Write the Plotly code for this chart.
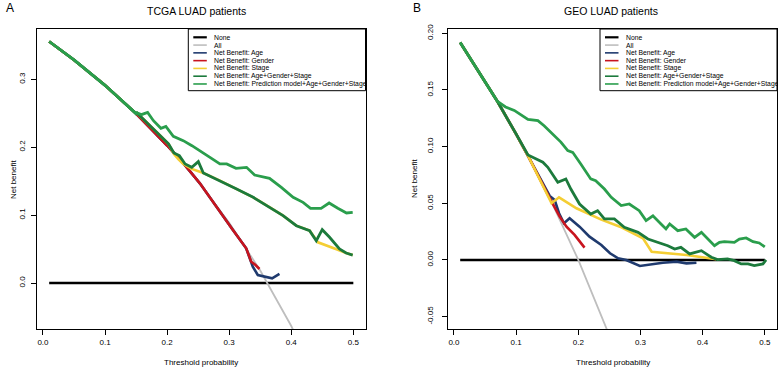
import plotly.graph_objects as go

W, H = 778, 368

# ---------------- Data: left panel (TCGA LUAD) ----------------
tcga_none_x = [0.01, 0.50]
tcga_none_y = [0.0, 0.0]

tcga_all_x = [0.01, 0.05, 0.10, 0.15, 0.20, 0.25, 0.30, 0.35, 0.40, 0.45, 0.50]
tcga_all_y = [0.3556, 0.3284, 0.2911, 0.2494, 0.2025, 0.1493, 0.0886, 0.0185, -0.0633, -0.160, -0.276]

tcga_age_x = [0.01, 0.05, 0.10, 0.15, 0.20, 0.2284, 0.2528, 0.279, 0.306, 0.3274, 0.338, 0.3461, 0.3568, 0.3692, 0.381]
tcga_age_y = [0.3556, 0.3284, 0.2911, 0.2494, 0.2025, 0.1738, 0.1468, 0.1124, 0.0781, 0.0511, 0.0240, 0.0118, 0.0093, 0.0069, 0.0133]

tcga_gender_x = [0.01, 0.05, 0.10, 0.15, 0.20, 0.2284, 0.2528, 0.279, 0.306, 0.3274, 0.3355, 0.3424, 0.3488]
tcga_gender_y = [0.3556, 0.3284, 0.2911, 0.2494, 0.2025, 0.1738, 0.1468, 0.1124, 0.0781, 0.0511, 0.0314, 0.0265, 0.0206]

tcga_stage_x = [0.01, 0.05, 0.10, 0.15, 0.1514, 0.173, 0.189, 0.2023, 0.211, 0.218, 0.226, 0.2397, 0.2557,
                0.2584, 0.285, 0.312, 0.3387, 0.3655, 0.3868, 0.4082, 0.4296, 0.443, 0.459, 0.475, 0.4884, 0.499]
tcga_stage_y = [0.3556, 0.3284, 0.2911, 0.2494, 0.2504, 0.2317, 0.217, 0.2047, 0.190, 0.1826, 0.1753, 0.168, 0.162,
                0.162, 0.1507, 0.1384, 0.1262, 0.1114, 0.0992, 0.0844, 0.0771, 0.0599, 0.055, 0.0491, 0.0442, 0.0412]

tcga_ags_x = [0.01, 0.05, 0.10, 0.15, 0.1514, 0.173, 0.189, 0.2023, 0.211, 0.2197, 0.229, 0.2397, 0.2503, 0.2584,
              0.285, 0.312, 0.3387, 0.3655, 0.3868, 0.4082, 0.4296, 0.4403, 0.4499, 0.4617, 0.4777, 0.4884, 0.499]
tcga_ags_y = [0.3556, 0.3284, 0.2911, 0.2494, 0.2504, 0.2317, 0.217, 0.2047, 0.1915, 0.1875, 0.1753, 0.1703, 0.1787, 0.162,
              0.1507, 0.1384, 0.1262, 0.1114, 0.0992, 0.0844, 0.0771, 0.0623, 0.0785, 0.0673, 0.0501, 0.0442, 0.0412]

tcga_pred_x = [0.01, 0.05, 0.10, 0.15, 0.1514, 0.1584, 0.1686, 0.178, 0.190, 0.198, 0.210, 0.226, 0.240, 0.253, 0.269,
               0.285, 0.296, 0.311, 0.328, 0.341, 0.365, 0.384, 0.403, 0.419, 0.431, 0.448, 0.461, 0.475, 0.489, 0.499]
tcga_pred_y = [0.3556, 0.3284, 0.2911, 0.2494, 0.2504, 0.2479, 0.2513, 0.239, 0.2278, 0.2307, 0.216, 0.2096, 0.2022, 0.1949, 0.185,
               0.1753, 0.1753, 0.1689, 0.1703, 0.159, 0.1541, 0.1409, 0.1262, 0.1188, 0.110, 0.110, 0.1178, 0.110, 0.1031, 0.1041]

# ---------------- Data: right panel (GEO LUAD) ----------------
geo_none_x = [0.01, 0.50]
geo_none_y = [0.0, 0.0]

geo_all_x = [0.01, 0.05, 0.07, 0.10, 0.12, 0.15, 0.16, 0.20, 0.25, 0.30]
geo_all_y = [0.1919, 0.1579, 0.1398, 0.1111, 0.0909, 0.0588, 0.0476, 0.0, -0.0667, -0.1429]

geo_age_x = [0.01, 0.05, 0.07, 0.10, 0.12, 0.154, 0.162, 0.169, 0.177, 0.186, 0.202, 0.218, 0.237, 0.251, 0.264,
             0.277, 0.299, 0.318, 0.336, 0.358, 0.374, 0.390]
geo_age_y = [0.1919, 0.1579, 0.1398, 0.1111, 0.0909, 0.0565, 0.0529, 0.0412, 0.0324, 0.0368, 0.0294, 0.0206, 0.0132, 0.0059, 0.0015,
             0.0, -0.0053, -0.0035, -0.0024, -0.0015, -0.003, -0.0024]

geo_gender_x = [0.01, 0.05, 0.07, 0.10, 0.12, 0.15, 0.162, 0.170, 0.181, 0.194, 0.210]
geo_gender_y = [0.1919, 0.1579, 0.1398, 0.1111, 0.0909, 0.0588, 0.047, 0.0382, 0.0294, 0.0221, 0.0109]

geo_stage_x = [0.01, 0.05, 0.07, 0.10, 0.12, 0.157, 0.169, 0.197, 0.237, 0.267, 0.304, 0.318, 0.374, 0.422]
geo_stage_y = [0.1919, 0.1579, 0.1398, 0.1111, 0.0909, 0.0500, 0.0553, 0.0456, 0.0356, 0.0294, 0.0191, 0.0073, 0.0044, 0.0006]

geo_ags_x = [0.01, 0.05, 0.07, 0.10, 0.119, 0.143, 0.151, 0.167, 0.180, 0.188, 0.202, 0.220, 0.231, 0.242, 0.258,
             0.274, 0.296, 0.312, 0.328, 0.344, 0.355, 0.365, 0.379, 0.398, 0.414, 0.424, 0.440, 0.451, 0.462,
             0.473, 0.483, 0.497, 0.502]
geo_ags_y = [0.1919, 0.1579, 0.1398, 0.1111, 0.0926, 0.0862, 0.0818, 0.0685, 0.0715, 0.0626, 0.0494, 0.0406, 0.0435, 0.0362, 0.0362,
             0.0288, 0.0244, 0.0185, 0.0156, 0.0126, 0.0097, 0.0112, 0.0053, 0.0082, 0.0024, 0.0003, 0.0009, -0.0006, -0.0035,
             -0.0035, -0.005, -0.0035, 0.0]

geo_pred_x = [0.01, 0.05, 0.07, 0.083, 0.097, 0.119, 0.135, 0.145, 0.172, 0.183, 0.191, 0.204, 0.220, 0.228, 0.242, 0.253,
              0.269, 0.282, 0.298, 0.309, 0.320, 0.333, 0.341, 0.347, 0.360, 0.373, 0.387, 0.398, 0.408, 0.419,
              0.427, 0.435, 0.451, 0.459, 0.470, 0.481, 0.491, 0.500]
geo_pred_y = [0.1919, 0.1579, 0.1398, 0.1350, 0.132, 0.124, 0.123, 0.1185, 0.104, 0.0965, 0.095, 0.0847, 0.0715, 0.070, 0.0626, 0.0553,
              0.048, 0.0494, 0.0435, 0.0347, 0.039, 0.0318, 0.0274, 0.0318, 0.0259, 0.0274, 0.020, 0.0244, 0.0191, 0.0126,
              0.0156, 0.0162, 0.0156, 0.0185, 0.0194, 0.0162, 0.015, 0.0115]

# ---------------- Labels ----------------
legend_labels = ["None", "All", "Net Benefit: Age", "Net Benefit: Gender", "Net Benefit: Stage",
                 "Net Benefit: Age+Gender+Stage", "Net Benefit: Prediction model+Age+Gender+Stage"]
x_tick_vals = [0.0, 0.1, 0.2, 0.3, 0.4, 0.5]
x_tick_text = ["0.0", "0.1", "0.2", "0.3", "0.4", "0.5"]
tcga_y_tick_vals = [0.0, 0.1, 0.2, 0.3]
tcga_y_tick_text = ["0.0", "0.1", "0.2", "0.3"]
geo_y_tick_vals = [-0.05, 0.0, 0.05, 0.10, 0.15, 0.20]
geo_y_tick_text = ["-0.05", "0.00", "0.05", "0.10", "0.15", "0.20"]

# ---------------- Styles ----------------
colors = ["#000000", "#BEBEBE", "#1F3A6E", "#C8141E", "#F4CE34", "#1C7A3C", "#2A9E4C"]
widths = [2.6, 1.8, 2.6, 2.6, 2.6, 2.8, 2.8]
FONT = "Liberation Sans, Arial, Helvetica, sans-serif"

fig = go.Figure()

tcga_series = [(tcga_none_x, tcga_none_y), (tcga_all_x, tcga_all_y), (tcga_age_x, tcga_age_y),
               (tcga_gender_x, tcga_gender_y), (tcga_stage_x, tcga_stage_y), (tcga_ags_x, tcga_ags_y),
               (tcga_pred_x, tcga_pred_y)]
geo_series = [(geo_none_x, geo_none_y), (geo_all_x, geo_all_y), (geo_age_x, geo_age_y),
              (geo_gender_x, geo_gender_y), (geo_stage_x, geo_stage_y), (geo_ags_x, geo_ags_y),
              (geo_pred_x, geo_pred_y)]

for i, (xs, ys) in enumerate(tcga_series):
    fig.add_trace(go.Scatter(x=xs, y=ys, mode="lines", name=legend_labels[i], showlegend=False,
                             line=dict(color=colors[i], width=widths[i]), xaxis="x", yaxis="y"))
for i, (xs, ys) in enumerate(geo_series):
    fig.add_trace(go.Scatter(x=xs, y=ys, mode="lines", name=legend_labels[i], showlegend=False,
                             line=dict(color=colors[i], width=widths[i]), xaxis="x2", yaxis="y2"))


def px(x):
    return x / W


def py(y):
    return 1 - y / H


L_X0, L_X1 = 37, 365.5
R_X0, R_X1 = 448, 777
Y_TOP, Y_BOT = 29, 329

axis_common = dict(showline=True, mirror=True, linecolor="black", linewidth=1, ticks="outside",
                   ticklen=5, tickwidth=1, tickcolor="black", showgrid=False, zeroline=False,
                   automargin=False, tickfont=dict(family=FONT, size=8, color="black"))

fig.update_layout(
    width=W, height=H, autosize=False,
    margin=dict(l=0, r=0, t=0, b=0, pad=0),
    paper_bgcolor="white", plot_bgcolor="white",
    showlegend=False,
    xaxis=dict(domain=[px(L_X0), px(L_X1)], range=[-0.0096, 0.5196], anchor="y",
               tickmode="array", tickvals=x_tick_vals, ticktext=x_tick_text, **axis_common),
    yaxis=dict(domain=[py(Y_BOT), py(Y_TOP)], range=[-0.0677, 0.374], anchor="x",
               tickmode="array", tickvals=tcga_y_tick_vals, ticktext=tcga_y_tick_text, tickangle=-90,
               ticklabelstandoff=3, **axis_common),
    xaxis2=dict(domain=[px(R_X0), px(R_X1)], range=[-0.0096, 0.5196], anchor="y2",
                tickmode="array", tickvals=x_tick_vals, ticktext=x_tick_text, **axis_common),
    yaxis2=dict(domain=[py(Y_BOT), py(Y_TOP)], range=[-0.0609, 0.2038], anchor="x2",
                tickmode="array", tickvals=geo_y_tick_vals, ticktext=geo_y_tick_text, tickangle=-90,
                ticklabelstandoff=6, **axis_common),
)

annotations = []
shapes = []


def text(x, y, s, size, xanchor="center", angle=0):
    annotations.append(dict(x=px(x), y=py(y), xref="paper", yref="paper", text=s, showarrow=False,
                            xanchor=xanchor, yanchor="middle", textangle=angle,
                            font=dict(family=FONT, size=size, color="black")))


# panel letters and titles
text(4, 8, "A", 12, xanchor="left")
text(411, 8, "B", 12, xanchor="left")
text(196, 11, "TCGA LUAD patients", 10.5)
text(611, 11, "GEO LUAD patients", 10.5)
# axis titles
text((L_X0 + L_X1) / 2, 362, "Threshold probability", 8)
text((R_X0 + R_X1) / 2, 362, "Threshold probability", 8)
text(13, 179, "Net benefit", 8, angle=-90)
text(414, 179, "Net benefit", 8, angle=-90)

# legends
for bx0, bx1 in [(188.3, L_X1), (600, R_X1)]:
    shapes.append(dict(type="rect", xref="paper", yref="paper", x0=px(bx0), x1=px(bx1),
                       y0=py(90.7), y1=py(Y_TOP), line=dict(color="black", width=1), fillcolor="white",
                       layer="above"))
    for k, lab in enumerate(legend_labels):
        yy = 37.3 + k * 7.78
        shapes.append(dict(type="line", xref="paper", yref="paper", x0=px(bx0 + 5), x1=px(bx0 + 18.5),
                           y0=py(yy), y1=py(yy), line=dict(color=colors[k], width=1.6 if k else 2.2),
                           layer="above"))
        text(bx0 + 23.5, yy, lab, 6.8, xanchor="left")

fig.update_layout(annotations=annotations, shapes=shapes)
fig.write_html("out.html", config={"displayModeBar": False},
               post_script="document.body.style.margin='0px';document.body.style.overflow='hidden';")
